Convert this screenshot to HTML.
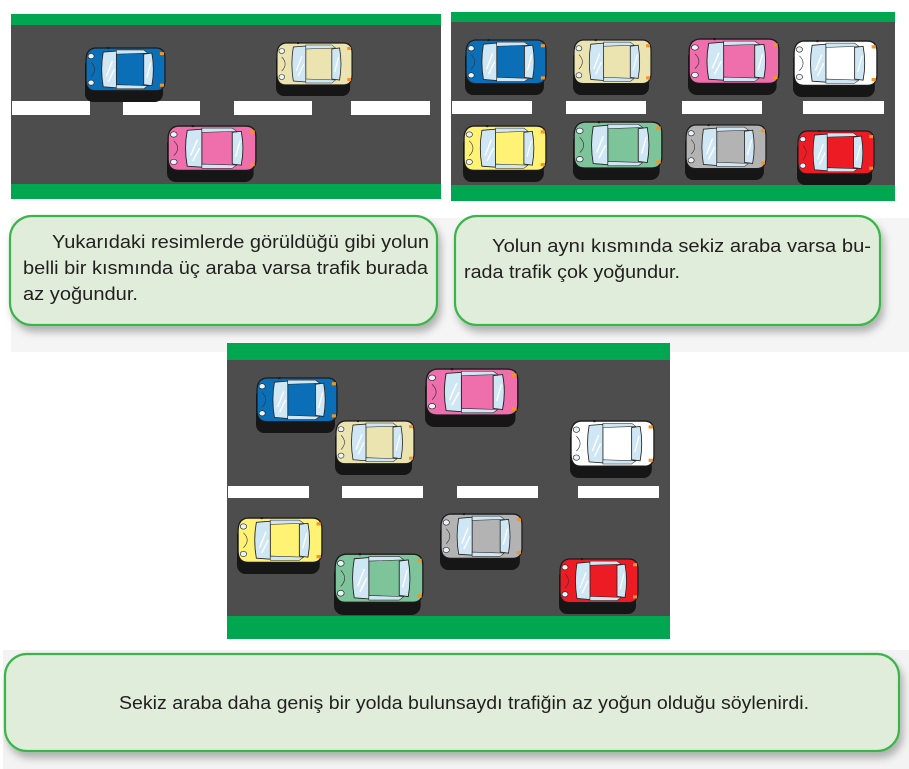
<!DOCTYPE html>
<html><head><meta charset="utf-8"><style>
html,body{margin:0;padding:0;background:#fff;width:909px;height:769px;overflow:hidden}
svg{display:block}
text{font-family:"Liberation Sans",Arial,sans-serif;font-size:18px;fill:#231f20}
</style></head><body>
<svg width="909" height="769" viewBox="0 0 909 769" xmlns="http://www.w3.org/2000/svg">
<defs>
<filter id="sh" x="-10%" y="-20%" width="125%" height="150%">
<feDropShadow dx="3" dy="6" stdDeviation="4" flood-color="#000" flood-opacity="0.28"/>
</filter>
<symbol id="car" viewBox="0 0 80 54" preserveAspectRatio="none">
<rect x="0" y="10" width="77" height="44" rx="8" fill="#161616"/>
<path d="M10,1 Q1,2 1,13 L1,32 Q1,43 10,43 L70,43 Q79,43 79,33 L79,11 Q79,1 70,1 Z" stroke="#1b1b1b" stroke-width="1.2"/>
<path d="M6,15 Q13,22 6,29" fill="none" stroke="#333" stroke-width="0.6"/>
<path d="M18,5 L31,4 L31,40 L18,39 Q15,22 18,5 Z" fill="#cfe7f4" stroke="#222" stroke-width="0.8"/>
<path d="M21,29 L27,14 M23,34 L29,22" stroke="#fff" stroke-width="1.3"/>
<path d="M31,3 L58,3 L62,6 L31,7 Z" fill="#cfe7f4" stroke="#222" stroke-width="0.5"/>
<path d="M31,41 L58,41 L62,38 L31,37 Z" fill="#cfe7f4" stroke="#222" stroke-width="0.5"/>
<path d="M58,7 L66,6 Q69,22 66,38 L58,37 Z" fill="#cfe7f4" stroke="#222" stroke-width="0.8"/>
<path d="M61,30 L65,15" stroke="#fff" stroke-width="1.2"/>
<ellipse cx="6" cy="9" rx="3" ry="2.5" fill="#e8f3fa" stroke="#222" stroke-width="0.6"/>
<ellipse cx="6" cy="35" rx="3" ry="2.5" fill="#e8f3fa" stroke="#222" stroke-width="0.6"/>
<rect x="74" y="5" width="4" height="3" fill="#f7941d"/>
<rect x="74" y="36" width="4" height="3" fill="#f7941d"/>
<rect x="22" y="-1" width="2" height="3" fill="#1b1b1b"/>
</symbol>
</defs>

<rect x="11" y="218" width="898" height="134" fill="#f5f5f5"/>
<rect x="3" y="650" width="906" height="119" fill="#f3f3f3"/>

<rect x="11" y="14" width="430" height="185" fill="#00a650"/>
<rect x="11" y="25" width="430" height="159" fill="#4d4d4d"/>
<rect x="12" y="101" width="78" height="14" fill="#fff"/>
<rect x="123" y="101" width="77" height="14" fill="#fff"/>
<rect x="234" y="101" width="78" height="14" fill="#fff"/>
<rect x="351" y="101" width="79" height="14" fill="#fff"/>
<use href="#car" x="85" y="47" width="81" height="55" fill="#0a6fb7"/>
<use href="#car" x="276" y="42" width="77" height="54" fill="#ebe3b0"/>
<use href="#car" x="167" y="125" width="90" height="57" fill="#ee6fab"/>

<rect x="451" y="12" width="444" height="189" fill="#00a650"/>
<rect x="451" y="22" width="444" height="163" fill="#4d4d4d"/>
<rect x="452" y="101" width="80" height="13" fill="#fff"/>
<rect x="566" y="101" width="80" height="13" fill="#fff"/>
<rect x="682" y="101" width="80" height="13" fill="#fff"/>
<rect x="803" y="101" width="81" height="13" fill="#fff"/>
<use href="#car" x="465" y="39" width="82" height="56" fill="#0a6fb7"/>
<use href="#car" x="573" y="39" width="79" height="56" fill="#ebe3b0"/>
<use href="#car" x="688" y="38" width="92" height="57" fill="#ee6fab"/>
<use href="#car" x="793" y="40" width="85" height="57" fill="#ffffff"/>
<use href="#car" x="463" y="125" width="84" height="57" fill="#fff275"/>
<use href="#car" x="573" y="121" width="90" height="59" fill="#7ec49a"/>
<use href="#car" x="685" y="124" width="82" height="56" fill="#b3b3b3"/>
<use href="#car" x="797" y="130" width="78" height="55" fill="#ed1c24"/>

<rect x="10" y="216" width="427" height="109" rx="22" fill="#e0eddb" stroke="#3ab54a" stroke-width="2.2" filter="url(#sh)"/>
<rect x="455" y="216" width="425" height="109" rx="22" fill="#e0eddb" stroke="#3ab54a" stroke-width="2.2" filter="url(#sh)"/>
<text x="52" y="248" textLength="377" lengthAdjust="spacingAndGlyphs">Yukarıdaki resimlerde görüldüğü gibi yolun</text>
<text x="23" y="274" textLength="405" lengthAdjust="spacingAndGlyphs">belli bir kısmında üç araba varsa trafik burada</text>
<text x="23" y="300" textLength="115" lengthAdjust="spacingAndGlyphs">az yoğundur.</text>
<text x="492" y="252" textLength="379" lengthAdjust="spacingAndGlyphs">Yolun aynı kısmında sekiz araba varsa bu-</text>
<text x="464" y="278" textLength="216" lengthAdjust="spacingAndGlyphs">rada trafik çok yoğundur.</text>

<rect x="227" y="343" width="443" height="296" fill="#00a650"/>
<rect x="227" y="360" width="443" height="256" fill="#4d4d4d"/>
<rect x="228" y="486" width="81" height="12" fill="#fff"/>
<rect x="342" y="486" width="81" height="12" fill="#fff"/>
<rect x="457" y="486" width="81" height="12" fill="#fff"/>
<rect x="578" y="486" width="81" height="12" fill="#fff"/>
<use href="#car" x="256" y="377" width="82" height="56" fill="#0a6fb7"/>
<use href="#car" x="425" y="368" width="94" height="59" fill="#ee6fab"/>
<use href="#car" x="335" y="420" width="80" height="55" fill="#ebe3b0"/>
<use href="#car" x="570" y="420" width="85" height="58" fill="#ffffff"/>
<use href="#car" x="237" y="517" width="86" height="57" fill="#fff275"/>
<use href="#car" x="440" y="513" width="83" height="57" fill="#b3b3b3"/>
<use href="#car" x="334" y="553" width="90" height="62" fill="#7ec49a"/>
<use href="#car" x="559" y="558" width="80" height="56" fill="#ed1c24"/>

<rect x="5" y="654" width="894" height="97" rx="22" fill="#e0eddb" stroke="#3ab54a" stroke-width="2.2" filter="url(#sh)"/>
<text x="119" y="709" textLength="690" lengthAdjust="spacingAndGlyphs">Sekiz araba daha geniş bir yolda bulunsaydı trafiğin az yoğun olduğu söylenirdi.</text>
</svg>
</body></html>
